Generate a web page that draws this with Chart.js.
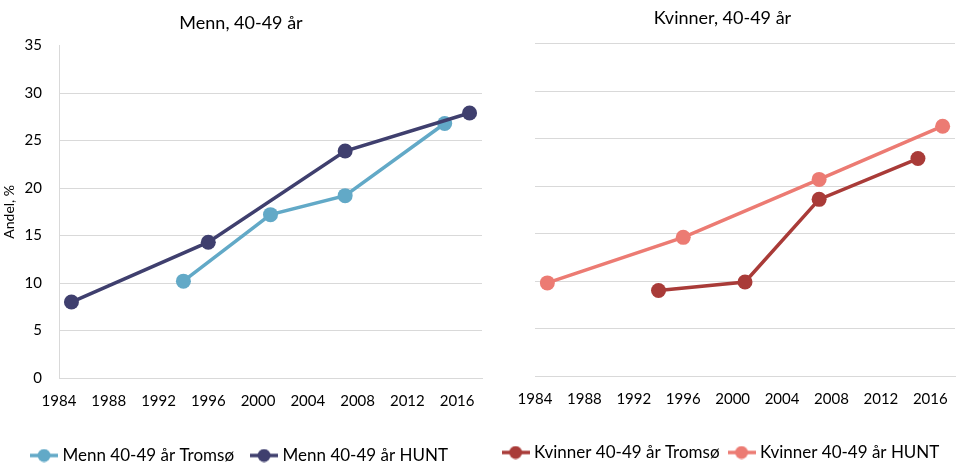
<!DOCTYPE html>
<html>
<head>
<meta charset="utf-8">
<script src="https://cdn.jsdelivr.net/npm/chart.js@4/dist/chart.umd.min.js"></script>
<style>
  body { margin: 0; background: #fff; }
  .box { position: absolute; top: 0; height: 468px; }
  #left { left: 0; width: 490px; }
  #right { left: 490px; width: 480px; }
</style>
</head>
<body>
<div class="box" id="left"><canvas id="menn"></canvas></div>
<div class="box" id="right"><canvas id="kvinner"></canvas></div>
<script>
// survey years
var tromsoYears = [1994, 2001, 2007, 2015];
var huntYears = [1985, 1996, 2007, 2017];

// share, %
var mennTromso = [10.2, 17.2, 19.2, 26.8];
var mennHunt = [8.0, 14.3, 23.9, 27.9];
var kvinnerTromso = [9.0, 9.9, 18.6, 22.9];
var kvinnerHunt = [9.8, 14.6, 20.7, 26.3];

var yTicks = [0, 5, 10, 15, 20, 25, 30, 35];
var xTicks = [1984, 1988, 1992, 1996, 2000, 2004, 2008, 2012, 2016];

var font = "Lato, 'Open Sans', sans-serif";
var gridColor = "#d9d9d9";

function points(years, vals) {
  return years.map(function(y, i) { return { x: y, y: vals[i] }; });
}

// little "line with a dot" marker for the legend
function legendMarker(color) {
  var c = document.createElement("canvas");
  c.width = 28;
  c.height = 14;
  var g = c.getContext("2d");
  g.strokeStyle = color;
  g.lineWidth = 3.5;
  g.beginPath();
  g.moveTo(0, 7);
  g.lineTo(28, 7);
  g.stroke();
  g.fillStyle = color;
  g.beginPath();
  g.arc(14, 7, 6.5, 0, Math.PI * 2);
  g.fill();
  return c;
}

function dataset(label, years, vals, color, order) {
  return {
    label: label,
    data: points(years, vals),
    borderColor: color,
    backgroundColor: color,
    borderWidth: 3.5,
    pointRadius: 7.5,
    pointHoverRadius: 7.5,
    pointBorderWidth: 0,
    tension: 0,
    order: order
  };
}

function makeChart(id, title, datasets, opts) {
  var ctx = document.getElementById(id);
  return new Chart(ctx, {
    type: "line",
    data: { datasets: datasets },
    options: {
      responsive: true,
      maintainAspectRatio: false,
      animation: false,
      layout: { padding: { left: 0, right: opts.padRight, top: 0, bottom: opts.padBottom } },
      plugins: {
        title: {
          display: true,
          text: title,
          color: "#000",
          font: { family: font, size: 18, weight: "normal" },
          padding: { top: opts.titleTop, bottom: opts.titleBottom }
        },
        legend: {
          position: "bottom",
          labels: {
            color: "#000",
            font: { family: font, size: 17 },
            usePointStyle: true,
            pointStyleWidth: 20,
            padding: opts.legendPad,
            sort: function(a, b) { return a.datasetIndex - b.datasetIndex; },
            generateLabels: function(chart) {
              var items = Chart.defaults.plugins.legend.labels.generateLabels(chart);
              items.forEach(function(it) {
                it.pointStyle = legendMarker(chart.data.datasets[it.datasetIndex].borderColor);
              });
              return items;
            }
          }
        },
        tooltip: { enabled: false }
      },
      scales: {
        x: {
          type: "linear",
          min: 1984,
          max: 2018,
          grid: { display: false, drawTicks: false },
          border: { display: true, color: gridColor },
          ticks: {
            stepSize: 4,
            includeBounds: false,
            color: "#000",
            padding: 14,
            maxRotation: 0,
            font: { family: font, size: 15 },
            callback: function(v) { return xTicks.indexOf(v) >= 0 ? String(v) : ""; }
          },
          afterFit: function(s) { s.height = opts.xHeight; }
        },
        y: {
          min: 0,
          max: 35,
          grid: {
            drawTicks: false,
            color: function(c) {
              if (!opts.topGrid && c.tick && c.tick.value === 35) return "rgba(0,0,0,0)";
              return gridColor;
            }
          },
          border: { display: opts.yBorder, color: gridColor },
          ticks: {
            display: opts.yLabels,
            stepSize: 5,
            color: "#000",
            padding: 17,
            font: { family: font, size: 15 },
            callback: function(v) { return yTicks.indexOf(v) >= 0 ? String(v) : ""; }
          },
          title: {
            display: opts.yLabels,
            text: "Andel, %",
            color: "#000",
            font: { family: font, size: 14 },
            padding: { top: 1, bottom: 0 }
          },
          afterFit: function(s) { s.width = opts.yWidth; }
        }
      }
    }
  });
}

makeChart("menn", "Menn, 40-49 år", [
  dataset("Menn 40-49 år Tromsø", tromsoYears, mennTromso, "#62a9c7", 2),
  dataset("Menn 40-49 år HUNT", huntYears, mennHunt, "#3f3f6e", 1)
], { padRight: 8, padBottom: -6, titleTop: 12, titleBottom: 12, xHeight: 49, yWidth: 59, yLabels: true, yBorder: true, topGrid: false, legendPad: 20 });

makeChart("kvinner", "Kvinner, 40-49 år", [
  dataset("Kvinner 40-49 år Tromsø", tromsoYears, kvinnerTromso, "#a93b38", 1),
  dataset("Kvinner 40-49 år HUNT", huntYears, kvinnerHunt, "#ec7b73", 2)
], { padRight: 15, padBottom: -3, titleTop: 7, titleBottom: 15, xHeight: 56, yWidth: 45, yLabels: false, yBorder: false, topGrid: true, legendPad: 12 });
</script>
</body>
</html>
